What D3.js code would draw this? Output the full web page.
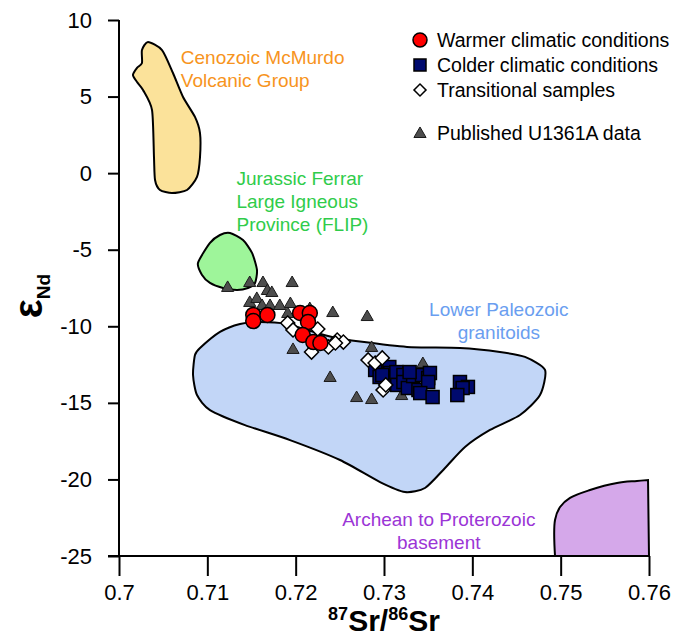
<!DOCTYPE html>
<html>
<head>
<meta charset="utf-8">
<script src="https://cdn.jsdelivr.net/npm/d3@7"></script>
<style>
  body { margin: 0; background: #fff; }
  text { font-family: "Liberation Sans", Arial, sans-serif; }
</style>
</head>
<body>
<div id="chart"></div>
<script>
// sample data: [87Sr/86Sr, eNd]
const warmer = [
  [0.7152, -9.26], [0.7168, -9.26], [0.7152, -9.66],
  [0.7205, -9.13], [0.7216, -9.13], [0.7214, -9.72],
  [0.7208, -10.57], [0.7220, -11.03], [0.7228, -11.09]
];

const colder = [
  [0.7290, -12.85], [0.7295, -13.31], [0.7306, -12.66], [0.7307, -13.05],
  [0.7307, -13.38], [0.7314, -12.99], [0.7315, -13.83], [0.7322, -13.18],
  [0.7322, -13.64], [0.7327, -14.03], [0.7333, -13.25], [0.7339, -14.16],
  [0.7343, -13.18], [0.7350, -13.38], [0.7352, -13.05], [0.7350, -13.64],
  [0.7341, -14.36], [0.7355, -14.62], [0.7386, -13.64], [0.7395, -13.96],
  [0.7389, -14.03], [0.7383, -14.49], [0.7298, -13.18], [0.7329, -12.99]
];

const transitional = [
  [0.7191, -9.79], [0.7197, -10.24], [0.7225, -10.18], [0.7218, -11.68],
  [0.7237, -11.35], [0.7247, -10.90], [0.7254, -11.03], [0.7245, -11.09],
  [0.7282, -12.20], [0.7290, -12.40], [0.7298, -12.07], [0.7299, -14.16],
  [0.7302, -13.83]
];

const published = [
  [0.7123, -7.43], [0.7148, -7.11], [0.7163, -7.11], [0.7168, -7.63],
  [0.7173, -7.76], [0.7196, -7.11], [0.7148, -8.41], [0.7156, -8.15],
  [0.7162, -8.61], [0.7171, -8.61], [0.7182, -8.61], [0.7194, -8.48],
  [0.7191, -9.13], [0.7216, -8.81], [0.7242, -9.07], [0.7197, -11.48],
  [0.7239, -13.31], [0.7281, -9.33], [0.7286, -11.35], [0.7344, -12.40],
  [0.7269, -14.62], [0.7286, -14.75], [0.7320, -14.49]
];

// source fields (outlines)
const mcmurdo = [
  [0.70328, 8.56], [0.70487, 8.04], [0.70611, 6.54], [0.70725, 4.97],
  [0.7086, 3.67], [0.70917, 2.62], [0.70917, 1.05], [0.70883, -0.25],
  [0.7077, -1.10], [0.706, -1.30], [0.70464, -1.10], [0.70408, -0.45],
  [0.70396, 1.05], [0.70374, 4.12], [0.70272, 5.43], [0.70204, 5.95],
  [0.70158, 6.41], [0.70204, 6.87], [0.7026, 7.19], [0.7026, 8.04]
];

const flip = [
  [0.70894, -5.87], [0.7103, -4.56], [0.71143, -4.04], [0.71257, -3.91],
  [0.71404, -4.37], [0.71506, -5.21], [0.71562, -6.32], [0.7154, -7.17],
  [0.7146, -7.50], [0.71336, -7.63], [0.71177, -7.50], [0.7103, -7.17],
  [0.7094, -6.65]
];

const paleozoic = [
  [0.70838, -13.18], [0.7086, -11.88], [0.70917, -11.42], [0.71143, -10.37],
  [0.7137, -9.85], [0.71596, -9.72], [0.71902, -9.85], [0.72162, -10.30],
  [0.72423, -10.72], [0.72728, -11.0], [0.7326, -11.35], [0.7386, -11.42],
  [0.74313, -11.68], [0.74596, -12.0], [0.74823, -12.85], [0.74766, -14.49],
  [0.7454, -15.79], [0.742, -16.77], [0.73917, -17.88], [0.73691, -19.25],
  [0.73464, -20.56], [0.73238, -20.82], [0.72955, -20.17], [0.72502, -18.73],
  [0.71936, -17.43], [0.71426, -16.45], [0.7103, -15.47], [0.70883, -14.49]
];

const archean = [
  [0.74936, -25], [0.74936, -22.65], [0.74993, -21.8], [0.75106, -21.21],
  [0.75332, -20.69], [0.75638, -20.23], [0.75864, -20.10], [0.75989, -20.04],
  [0.76, -25]
];

const xTicks = [0.7, 0.71, 0.72, 0.73, 0.74, 0.75, 0.76];
const yTicks = [10, 5, 0, -5, -10, -15, -20, -25];

const legendItems = [
  { label: "Warmer climatic conditions", type: "circle" },
  { label: "Colder climatic conditions", type: "square" },
  { label: "Transitional samples", type: "diamond" },
  { label: "Published U1361A data", type: "triangle" }
];

function renderChart() {
  const width = 675, height = 641;
  const margin = { top: 20, right: 26, bottom: 85, left: 119 };
  const innerW = width - margin.left - margin.right;
  const innerH = height - margin.top - margin.bottom;

  const svg = d3.select("#chart").append("svg")
    .attr("width", width).attr("height", height);
  const g = svg.append("g").attr("transform", `translate(${margin.left},${margin.top})`);

  const x = d3.scaleLinear().domain([0.7, 0.76]).range([0, innerW]);
  const y = d3.scaleLinear().domain([-25, 10]).range([innerH, 0]);

  const closed = d3.line().x(d => x(d[0])).y(d => y(d[1])).curve(d3.curveCardinalClosed.tension(0.3));

  // fields
  g.append("path").datum(paleozoic).attr("d", closed)
    .attr("fill", "#c2d6f7").attr("stroke", "#000").attr("stroke-width", 2);
  g.append("path").datum(mcmurdo).attr("d", closed)
    .attr("fill", "#fbe29a").attr("stroke", "#000").attr("stroke-width", 2);
  g.append("path").datum(flip).attr("d", closed)
    .attr("fill", "#9ef59a").attr("stroke", "#000").attr("stroke-width", 2);

  const archLine = d3.line().x(d => x(d[0])).y(d => y(d[1])).curve(d3.curveCatmullRom);
  const last = archean[archean.length - 1];
  g.append("path")
    .attr("d", archLine(archean.slice(0, -1)) + `L${x(last[0])},${y(last[1])}Z`)
    .attr("fill", "#d5a8ea").attr("stroke", "#000").attr("stroke-width", 2);

  // field labels
  const fieldLabels = [
    { lines: ["Cenozoic McMurdo", "Volcanic Group"], x: 0.7070, y: 7.15, anchor: "start", color: "#f7941d" },
    { lines: ["Jurassic Ferrar", "Large Igneous", "Province (FLIP)"], x: 0.7133, y: -0.8, anchor: "start", color: "#2fcc4a" },
    { lines: ["Lower Paleozoic", "granitoids"], x: 0.7430, y: -9.3, anchor: "middle", color: "#6a9ef0" },
    { lines: ["Archean to Proterozoic", "basement"], x: 0.7362, y: -23.05, anchor: "middle", color: "#9b35d6" }
  ];
  fieldLabels.forEach(f => {
    const t = g.append("text")
      .attr("x", x(f.x)).attr("y", y(f.y))
      .attr("text-anchor", f.anchor)
      .attr("fill", f.color).attr("font-size", 19);
    f.lines.forEach((l, i) => {
      t.append("tspan").attr("x", x(f.x)).attr("dy", i === 0 ? 0 : 23).text(l);
    });
  });

  // axes
  const xAxis = g.append("g").attr("transform", `translate(0,${innerH})`)
    .call(d3.axisBottom(x).tickValues(xTicks).tickSize(20).tickPadding(8).tickFormat(d => String(+d.toFixed(2))));
  const yAxis = g.append("g")
    .call(d3.axisLeft(y).tickValues(yTicks).tickSize(11).tickPadding(16).tickFormat(d => String(d)));
  [xAxis, yAxis].forEach(a => {
    a.selectAll(".domain").attr("stroke-width", 2);
    a.selectAll(".tick line").attr("stroke-width", 2);
    a.selectAll(".tick text").attr("font-size", 22).attr("fill", "#000")
      .attr("font-family", "'Liberation Sans', Arial, sans-serif");
  });
  xAxis.select(".domain").attr("d", `M-11,0H${innerW}`);
  yAxis.select(".domain").attr("d", `M0,0V${innerH}`);

  // symbols
  const tri = d3.symbol().type(d3.symbolTriangle).size(64);
  const dia = d3.symbol().type(d3.symbolSquare).size(100);

  g.selectAll(".pub").data(published).enter().append("path")
    .attr("class", "pub")
    .attr("d", tri)
    .attr("transform", d => `translate(${x(d[0])},${y(d[1]) + 1})`)
    .attr("fill", "#4d4d4d").attr("stroke", "#1a1a1a").attr("stroke-width", 1);

  g.selectAll(".cold").data(colder).enter().append("rect")
    .attr("class", "cold")
    .attr("x", d => x(d[0]) - 6.5).attr("y", d => y(d[1]) - 6.5)
    .attr("width", 13).attr("height", 13)
    .attr("fill", "#000a6e").attr("stroke", "#000").attr("stroke-width", 1.5);

  g.selectAll(".trans").data(transitional).enter().append("path")
    .attr("class", "trans")
    .attr("d", dia)
    .attr("transform", d => `translate(${x(d[0])},${y(d[1])}) rotate(45)`)
    .attr("fill", "#fff").attr("stroke", "#000").attr("stroke-width", 1.5);

  g.selectAll(".warm").data(warmer).enter().append("circle")
    .attr("class", "warm")
    .attr("cx", d => x(d[0])).attr("cy", d => y(d[1])).attr("r", 7.5)
    .attr("fill", "#ff0000").attr("stroke", "#000").attr("stroke-width", 1.5);

  // legend
  const legend = svg.append("g").attr("transform", "translate(420,40)");
  const rows = [0, 25, 50, 93];
  legendItems.forEach((item, i) => {
    const row = legend.append("g").attr("transform", `translate(0,${rows[i]})`);
    if (item.type === "circle") {
      row.append("circle").attr("r", 7).attr("fill", "#ff0000").attr("stroke", "#000").attr("stroke-width", 1.5);
    } else if (item.type === "square") {
      row.append("rect").attr("x", -6).attr("y", -6).attr("width", 12).attr("height", 12)
        .attr("fill", "#000a6e").attr("stroke", "#000").attr("stroke-width", 1.5);
    } else if (item.type === "diamond") {
      row.append("path").attr("d", d3.symbol().type(d3.symbolSquare).size(72)).attr("transform", "rotate(45)")
        .attr("fill", "#fff").attr("stroke", "#000").attr("stroke-width", 1.5);
    } else {
      row.append("path").attr("d", tri).attr("transform", "translate(0,1)")
        .attr("fill", "#4d4d4d").attr("stroke", "#1a1a1a").attr("stroke-width", 1);
    }
    row.append("text").attr("x", 17).attr("y", 7).attr("font-size", 19.5).attr("fill", "#000").text(item.label);
  });

  // axis titles
  const xt = svg.append("text")
    .attr("x", margin.left + innerW / 2).attr("y", 631)
    .attr("text-anchor", "middle").attr("font-weight", "bold").attr("font-size", 30);
  xt.append("tspan").attr("font-size", 18).attr("dy", -11).text("87");
  xt.append("tspan").attr("dy", 11).text("Sr/");
  xt.append("tspan").attr("font-size", 18).attr("dy", -11).text("86");
  xt.append("tspan").attr("dy", 11).text("Sr");

  const yt = svg.append("text")
    .attr("transform", "translate(42,296) rotate(-90)")
    .attr("text-anchor", "middle").attr("font-weight", "bold").attr("font-size", 40);
  yt.append("tspan").text("ε");
  yt.append("tspan").attr("font-size", 19).attr("dy", 8).text("Nd");
}

renderChart();
</script>
</body>
</html>
